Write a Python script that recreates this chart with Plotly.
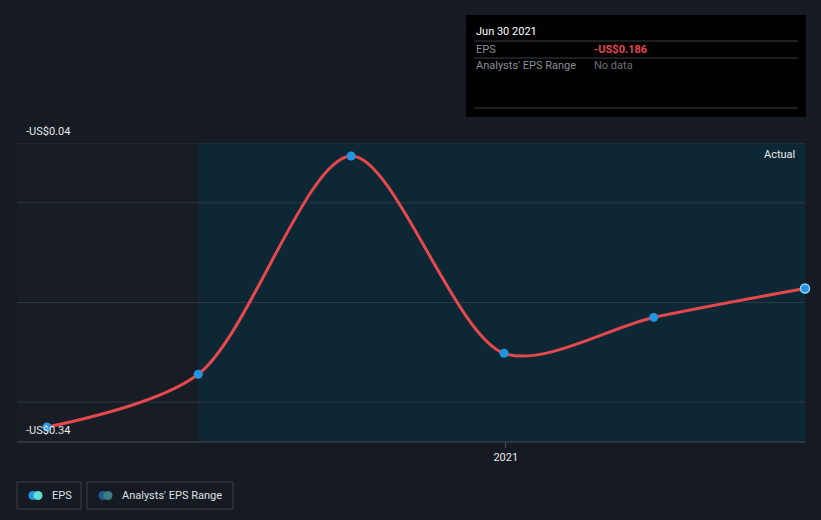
import plotly.graph_objects as go

dates = ["2020-03-31", "2020-06-30", "2020-09-30", "2020-12-31", "2021-03-31", "2021-06-30"]
eps = [-0.325, -0.272, -0.053, -0.251, -0.215, -0.186]
y_labels = ["-US$0.04", "-US$0.34"]
y_label_vals = [-0.04, -0.34]
grid_vals = [-0.04, -0.1, -0.2, -0.3]

PAGE = "#151a23"
fig = go.Figure()

fig.add_trace(go.Scatter(
    x=dates, y=eps, mode="lines",
    line=dict(color="#e5484d", width=3, shape="spline", smoothing=0.85),
    hoverinfo="skip", showlegend=False))
fig.add_trace(go.Scatter(
    x=dates[:-1], y=eps[:-1], mode="markers",
    marker=dict(color="#2394df", size=9),
    hoverinfo="skip", showlegend=False))
fig.add_trace(go.Scatter(
    x=dates[-1:], y=eps[-1:], mode="markers",
    marker=dict(color="#2394df", size=9, line=dict(color="#8fd6f5", width=1.5)),
    hoverinfo="skip", showlegend=False, cliponaxis=False))

shapes = []
# regions
shapes.append(dict(type="rect", xref="x", yref="paper", x0="2020-03-13", x1="2020-06-30", y0=0, y1=1,
                   fillcolor="#171c25", line=dict(width=0), layer="below"))
shapes.append(dict(type="rect", xref="x", yref="paper", x0="2020-06-30", x1="2021-06-30", y0=0, y1=1,
                   fillcolor="#0e2734", line=dict(width=0), layer="below"))
for g in grid_vals:
    shapes.append(dict(type="line", xref="paper", yref="y", x0=0, x1=1, y0=g, y1=g,
                       line=dict(color="#2c3945", width=1), layer="below"))
# x axis baseline
shapes.append(dict(type="line", xref="paper", yref="paper", x0=0, x1=1, y0=0, y1=0,
                   line=dict(color="#4a5058", width=1)))

annotations = []
for lab, v in zip(y_labels, y_label_vals):
    annotations.append(dict(xref="paper", yref="y", x=0, y=v, text=lab, showarrow=False,
                            xanchor="left", yanchor="bottom", xshift=7, yshift=3,
                            font=dict(family="Roboto", size=11, color="#e6e8ea")))
annotations.append(dict(xref="paper", yref="paper", x=1, y=1, text="Actual", showarrow=False,
                        xanchor="right", yanchor="top", xshift=-8, yshift=-3,
                        font=dict(family="Roboto", size=11, color="#e6e8ea")))

# tooltip box
shapes.append(dict(type="rect", xref="paper", yref="paper",
                   x0=(466 - 17) / 788, x1=(806 - 17) / 788,
                   y0=(442 - 117) / 299, y1=(442 - 15) / 299,
                   fillcolor="#000000", line=dict(width=0)))
for yy in [41, 58, 108]:
    shapes.append(dict(type="line", xref="paper", yref="paper",
                       x0=(474 - 17) / 788, x1=(798 - 17) / 788,
                       y0=(442 - yy) / 299, y1=(442 - yy) / 299,
                       line=dict(color="#3a3f45", width=1)))

def tip(x, y, text, color, bold=False):
    annotations.append(dict(xref="paper", yref="paper", x=(x - 17) / 788, y=(442 - y) / 299,
                            text=f"<b>{text}</b>" if bold else text, showarrow=False,
                            xanchor="left", yanchor="middle",
                            font=dict(family="Roboto", size=11, color=color)))

tip(474, 31, "Jun 30 2021", "#ffffff")
tip(474, 49, "EPS", "#8a8f96")
tip(592, 49, "-US$0.186", "#e5484d", bold=True)
tip(474, 66, "Analysts' EPS Range", "#8a8f96")
tip(592, 66, "No data", "#6b7077")

# legend
def leg_box(x0, x1):
    shapes.append(dict(type="rect", xref="paper", yref="paper",
                       x0=(x0 - 17) / 788, x1=(x1 - 17) / 788,
                       y0=(442 - 509) / 299, y1=(442 - 482) / 299,
                       fillcolor="rgba(0,0,0,0)", line=dict(color="#3a4049", width=1)))

def dot(cx, color):
    r = 4.5
    shapes.append(dict(type="circle", xref="paper", yref="paper",
                       x0=(cx - r - 17) / 788, x1=(cx + r - 17) / 788,
                       y0=(442 - 495.5 - r) / 299, y1=(442 - 495.5 + r) / 299,
                       fillcolor=color, line=dict(width=0)))

leg_box(17, 81)
dot(33, "#2394df")
dot(38, "#5ee0d0")
tip(50, 495.5, "EPS", "#dde0e3")
leg_box(87, 233)
dot(103, "#1f5f8f")
dot(108, "#3d7f80")
tip(120, 495.5, "Analysts' EPS Range", "#dde0e3")

fig.update_layout(
    width=821, height=520,
    margin=dict(l=17, r=16, t=143, b=78),
    paper_bgcolor=PAGE, plot_bgcolor=PAGE,
    showlegend=False,
    shapes=shapes, annotations=annotations,
    xaxis=dict(type="date", range=["2020-03-13", "2021-06-30"], showgrid=False, zeroline=False,
               tickvals=["2021-01-01"], ticktext=["2021"], ticks="outside", ticklen=5,
               tickcolor="#4a5058", tickfont=dict(family="Roboto", size=11, color="#e6e8ea"),
               showline=False),
    yaxis=dict(range=[-0.34, -0.04], showgrid=False, zeroline=False, showticklabels=False,
               showline=False),
)

fig.write_html("out.html")
